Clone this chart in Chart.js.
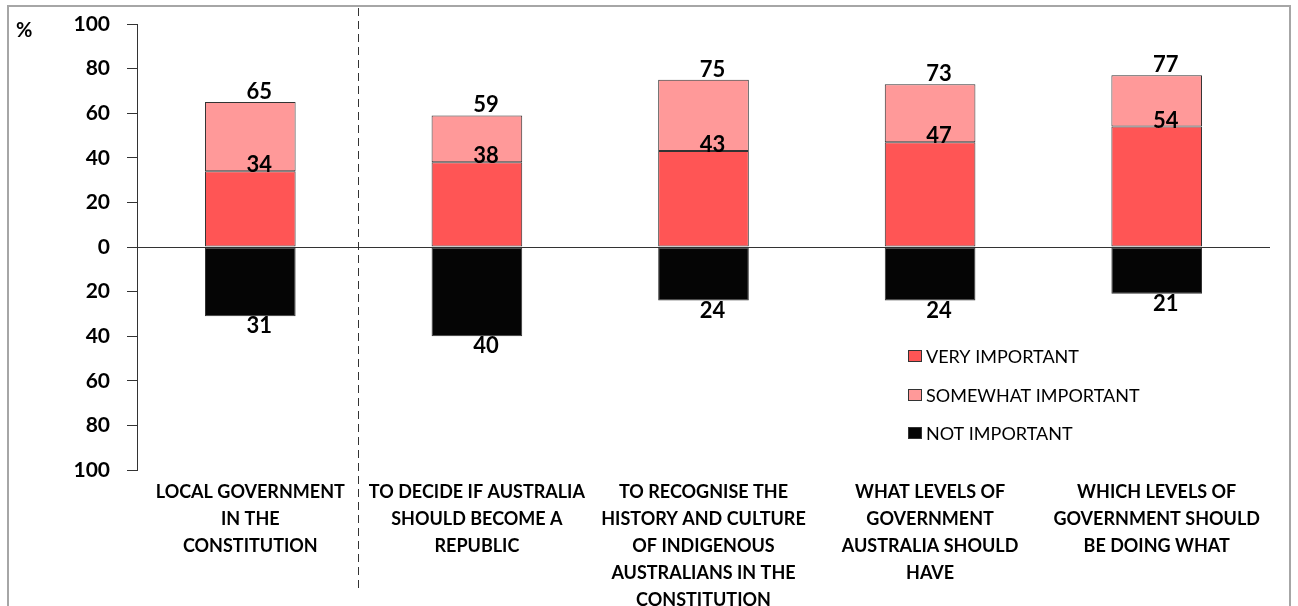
<!DOCTYPE html>
<html>
<head>
<meta charset="utf-8">
<script src="https://cdn.jsdelivr.net/npm/chart.js@4/dist/chart.umd.min.js"></script>
<style>
  html, body { margin: 0; padding: 0; background: #fff; }
  #wrap { width: 1298px; height: 606px; position: relative; }
</style>
</head>
<body>
<div id="wrap"><canvas id="barChart"></canvas></div>
<script>
// categories (multi-line labels as in the original)
const categories = [
  ['LOCAL GOVERNMENT', 'IN THE', 'CONSTITUTION'],
  ['TO DECIDE IF AUSTRALIA', 'SHOULD BECOME A', 'REPUBLIC'],
  ['TO RECOGNISE THE', 'HISTORY AND CULTURE', 'OF INDIGENOUS', 'AUSTRALIANS IN THE', 'CONSTITUTION'],
  ['WHAT LEVELS OF', 'GOVERNMENT', 'AUSTRALIA SHOULD', 'HAVE'],
  ['WHICH LEVELS OF', 'GOVERNMENT SHOULD', 'BE DOING WHAT']
];
const veryImportant = [34, 38, 43, 47, 54];
const somewhatImportant = [31, 21, 32, 26, 23];
const notImportant = [31, 40, 24, 24, 21]; // drawn below zero
const yTicks = [-100, -80, -60, -40, -20, 0, 20, 40, 60, 80, 100];

const labelFont = 'Lato, "Open Sans", sans-serif';

// value labels, legend, dashed divider, % sign and frame
const extras = {
  id: 'extras',
  afterDatasetsDraw(chart) {
    const ctx = chart.ctx;
    const very = chart.getDatasetMeta(0).data;
    const some = chart.getDatasetMeta(1).data;
    const not = chart.getDatasetMeta(2).data;
    ctx.save();
    ctx.fillStyle = '#000';
    ctx.font = 'bold 22px ' + labelFont;
    ctx.textAlign = 'center';
    for (let i = 0; i < categories.length; i++) {
      ctx.textBaseline = 'alphabetic';
      ctx.fillText(String(veryImportant[i]), very[i].x + 9, very[i].y + 1);
      ctx.fillText(String(veryImportant[i] + somewhatImportant[i]), some[i].x + 9, some[i].y - 3);
      ctx.textBaseline = 'top';
      ctx.fillText(String(notImportant[i]), not[i].x + 9, not[i].y - 1);
    }

    // dashed divider between first and second category
    const xs = chart.scales.x;
    const divX = Math.round((xs.getPixelForValue(0) + xs.getPixelForValue(1)) / 2) - 6 + 0.5;
    ctx.strokeStyle = '#333';
    ctx.lineWidth = 1;
    ctx.setLineDash([8, 5]);
    ctx.beginPath();
    ctx.moveTo(divX, 8);
    ctx.lineTo(divX, 590);
    ctx.stroke();
    ctx.setLineDash([]);

    // legend inside the plot
    const ds = chart.data.datasets;
    const rowsY = [356, 395, 433];
    ctx.font = '18px ' + labelFont;
    ctx.textAlign = 'left';
    ctx.textBaseline = 'middle';
    ds.forEach((d, k) => {
      ctx.fillStyle = d.backgroundColor;
      ctx.fillRect(908, rowsY[k] - 6, 14, 12);
      ctx.strokeStyle = '#333';
      ctx.lineWidth = 1;
      ctx.strokeRect(908.5, rowsY[k] - 5.5, 13, 11);
      ctx.fillStyle = '#000';
      ctx.fillText(d.label, 926, rowsY[k] + 1);
    });

    // % unit
    ctx.font = 'bold 20px ' + labelFont;
    ctx.fillText('%', 16, 31);

    // outer frame
    ctx.strokeStyle = '#a6a6a6';
    ctx.lineWidth = 2;
    ctx.strokeRect(8, 6, 1282, 700);
    ctx.restore();
  }
};

new Chart(document.getElementById('barChart'), {
  type: 'bar',
  data: {
    labels: categories,
    datasets: [
      {
        label: 'VERY IMPORTANT',
        data: veryImportant,
        backgroundColor: '#ff5555',
        borderColor: '#333',
        borderWidth: 1,
        borderSkipped: false
      },
      {
        label: 'SOMEWHAT IMPORTANT',
        data: somewhatImportant,
        backgroundColor: '#ff9999',
        borderColor: '#333',
        borderWidth: 1,
        borderSkipped: false
      },
      {
        label: 'NOT IMPORTANT',
        data: notImportant.map(v => -v),
        backgroundColor: '#050505',
        borderColor: '#333',
        borderWidth: 1,
        borderSkipped: false
      }
    ]
  },
  options: {
    responsive: true,
    maintainAspectRatio: false,
    animation: false,
    categoryPercentage: 1,
    barPercentage: 0.4,
    layout: {
      padding: { top: 24, right: 28, bottom: 0, left: 0 }
    },
    scales: {
      x: {
        stacked: true,
        grid: { display: false },
        border: { display: false },
        afterFit: (scale) => { scale.height = 136; scale.paddingLeft = 0; scale.paddingRight = 0; },
        ticks: {
          maxRotation: 0,
          autoSkip: false,
          padding: 1,
          color: '#000',
          font: { family: labelFont, size: 18, weight: 'bold', lineHeight: 1.5 }
        }
      },
      y: {
        stacked: true,
        min: -100,
        max: 100,
        afterFit: (scale) => { scale.width = 137; scale.paddingTop = 0; scale.paddingBottom = 0; },
        afterBuildTicks: (scale) => { scale.ticks = yTicks.map(v => ({ value: v })); },
        border: { color: '#333', width: 1 },
        grid: {
          color: (c) => (c.tick && c.tick.value === 0 ? '#333' : 'rgba(0,0,0,0)'),
          tickColor: '#333',
          tickLength: 10,
          drawTicks: true
        },
        ticks: {
          padding: 17,
          color: '#000',
          font: { family: labelFont, size: 21, weight: 'bold' },
          callback: (v) => Math.abs(v)
        }
      }
    },
    plugins: {
      legend: { display: false },
      tooltip: { enabled: false }
    }
  },
  plugins: [extras]
});
</script>
</body>
</html>
